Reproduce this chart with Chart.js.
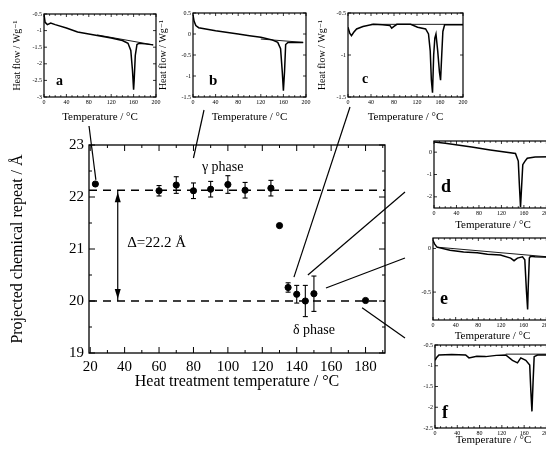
<!DOCTYPE html>
<html>
<head>
<meta charset="utf-8">
<script src="https://cdn.jsdelivr.net/npm/chart.js@4.4.1/dist/chart.umd.min.js"></script>
<style>
html, body { margin: 0; padding: 0; background: #fff; width: 546px; height: 450px; overflow: hidden; }
.box { position: absolute; }
</style>
</head>
<body>
<div class="box" style="left:0;top:0;width:546px;height:450px"><canvas id="main"></canvas></div>
<div class="box" style="left:0;top:0;width:170px;height:130px"><canvas id="insA"></canvas></div>
<div class="box" style="left:150px;top:0;width:170px;height:130px"><canvas id="insB"></canvas></div>
<div class="box" style="left:305px;top:0;width:175px;height:130px"><canvas id="insC"></canvas></div>
<div class="box" style="left:405px;top:133px;width:150px;height:100px"><canvas id="insD"></canvas></div>
<div class="box" style="left:405px;top:228px;width:150px;height:115px"><canvas id="insE"></canvas></div>
<div class="box" style="left:405px;top:335px;width:150px;height:115px"><canvas id="insF"></canvas></div>
<script>
// main panel: chemical repeat vs. heat treatment temperature
var temps  = [23, 60, 70, 80, 90, 100, 110, 125, 130, 135, 140, 145, 150, 180];
var repeat = [22.25, 22.12, 22.23, 22.12, 22.15, 22.24, 22.13, 22.17, 21.45, 20.26, 20.13, 20.0, 20.14, 20.01];
var repErr = [0, 0.1, 0.16, 0.15, 0.15, 0.17, 0.15, 0.15, 0, 0.09, 0.17, 0.3, 0.34, 0];
var gammaLevel = 22.13;
var deltaLevel = 20.0;
var xTickVals = [20, 40, 60, 80, 100, 120, 140, 160, 180];
var yTickVals = [19, 20, 21, 22, 23];

// DSC insets (temperature / heat flow)
var aTemp = [0, 2, 6, 12, 20, 40, 60, 80, 100, 120, 140, 150, 155, 158, 160, 161, 163, 166, 170, 180, 195];
var aHeat = [-0.52, -0.75, -0.82, -0.77, -0.82, -0.92, -1.04, -1.1, -1.16, -1.22, -1.3, -1.38, -1.6, -2.2, -2.78, -2.5, -1.75, -1.42, -1.38, -1.4, -1.43];
var aBaseT = [95, 195], aBaseH = [-1.13, -1.43];

var bTemp = [0, 2, 5, 10, 40, 80, 100, 120, 140, 150, 155, 158, 160, 162, 164, 168, 180, 195];
var bHeat = [0.45, 0.3, 0.2, 0.15, 0.08, 0.0, -0.04, -0.08, -0.14, -0.2, -0.35, -0.9, -1.35, -0.9, -0.25, -0.2, -0.2, -0.2];
var bBaseT = [120, 195], bBaseH = [-0.12, -0.2];

var cTemp = [0, 3, 6, 10, 15, 26, 44, 60, 73, 76, 80, 85, 109, 121, 135, 140, 143, 145, 147, 149, 151, 153, 156, 159, 161, 163, 165, 168, 180, 200];
var cHeat = [-0.67, -0.74, -0.77, -0.73, -0.69, -0.66, -0.635, -0.64, -0.65, -0.68, -0.66, -0.635, -0.635, -0.67, -0.69, -0.75, -0.95, -1.3, -1.45, -1.0, -0.8, -0.75, -0.95, -1.2, -1.3, -1.0, -0.72, -0.64, -0.64, -0.64];
var cBaseT = [40, 200], cBaseH = [-0.635, -0.635];

var dTemp = [0, 20, 67, 100, 145, 150, 152, 154, 156, 158, 162, 166, 180, 210];
var dHeat = [0.45, 0.4, 0.23, 0.1, -0.06, -0.4, -1.5, -2.45, -1.5, -0.56, -0.4, -0.27, -0.22, -0.2];

var eTemp = [0, 3, 7, 30, 54, 78, 96, 119, 137, 143, 149, 158, 162, 165, 167, 168, 170, 172, 180, 210];
var eHeat = [0.09, 0.05, 0.015, -0.02, -0.04, -0.05, -0.065, -0.075, -0.11, -0.14, -0.11, -0.095, -0.13, -0.5, -0.7, -0.45, -0.11, -0.09, -0.095, -0.1];
var eBaseT = [7, 210], eBaseH = [0.015, -0.1];

var fTemp = [0, 3, 7, 30, 55, 61, 75, 91, 110, 127, 139, 148, 154, 163, 170, 172, 174, 176, 178, 184, 200, 210];
var fHeat = [-0.87, -0.8, -0.74, -0.73, -0.74, -0.81, -0.77, -0.78, -0.75, -0.74, -0.87, -0.93, -0.81, -0.87, -0.98, -1.6, -2.1, -1.4, -0.78, -0.74, -0.74, -0.74];
var fBaseT = [127, 210], fBaseH = [-0.72, -0.72];

var SERIF = "'Liberation Serif', 'DejaVu Serif', serif";
Chart.defaults.font.family = SERIF;
Chart.defaults.color = '#000';
Chart.defaults.animation = false;

function pts(xs, ys) {
    return xs.map(function (v, i) { return {x: v, y: ys[i]}; });
}

function seg(ctx, x1, y1, x2, y2) {
    ctx.beginPath(); ctx.moveTo(x1, y1); ctx.lineTo(x2, y2); ctx.stroke();
}

// leader lines from the main plot to the insets (from: data coords, to: page px)
var leaders = [
    {fx: 23.3, fy: 22.33, to: [89, 126]},
    {fx: 80,   fy: 22.75, to: [204, 110]},
    {fx: 138.4, fy: 20.46, to: [350, 107]},
    {fx: 146.5, fy: 20.5, to: [405, 192]},
    {fx: 157,  fy: 20.25, to: [405, 258]},
    {fx: 178,  fy: 19.87, to: [405, 338]}
];

var mainDecor = {
    id: 'mainDecor',
    afterDatasetsDraw: function (chart) {
        var ctx = chart.ctx, a = chart.chartArea, x = chart.scales.x, y = chart.scales.y;
        ctx.save();
        ctx.strokeStyle = '#000';
        ctx.fillStyle = '#000';
        ctx.lineWidth = 1.3;
        ctx.strokeRect(a.left, a.top, a.right - a.left, a.bottom - a.top);
        ctx.lineWidth = 1;
        // inward ticks
        for (var v = 20; v <= 190; v += 10) {
            var px = x.getPixelForValue(v), len = v % 20 === 0 ? 6 : 3;
            seg(ctx, px, a.bottom, px, a.bottom - len);
            seg(ctx, px, a.top, px, a.top + len);
        }
        for (var w = 19; w <= 23; w += 0.5) {
            var py = y.getPixelForValue(w), l2 = w % 1 === 0 ? 6 : 3;
            seg(ctx, a.left, py, a.left + l2, py);
            seg(ctx, a.right, py, a.right - l2, py);
        }
        // error bars
        ctx.lineWidth = 1.1;
        temps.forEach(function (t, i) {
            if (!repErr[i]) return;
            var cx = x.getPixelForValue(t);
            var y1 = y.getPixelForValue(repeat[i] + repErr[i]);
            var y2 = y.getPixelForValue(repeat[i] - repErr[i]);
            seg(ctx, cx, y1, cx, y2);
            seg(ctx, cx - 2.5, y1, cx + 2.5, y1);
            seg(ctx, cx - 2.5, y2, cx + 2.5, y2);
        });
        // double arrow between the two phase levels
        var ax = x.getPixelForValue(36);
        var yTop = y.getPixelForValue(gammaLevel), yBot = y.getPixelForValue(deltaLevel);
        ctx.lineWidth = 1.2;
        seg(ctx, ax, yTop, ax, yBot);
        ctx.beginPath();
        ctx.moveTo(ax, yTop + 2); ctx.lineTo(ax - 3, yTop + 12); ctx.lineTo(ax + 3, yTop + 12); ctx.closePath(); ctx.fill();
        ctx.beginPath();
        ctx.moveTo(ax, yBot - 2); ctx.lineTo(ax - 3, yBot - 12); ctx.lineTo(ax + 3, yBot - 12); ctx.closePath(); ctx.fill();
        // labels
        ctx.font = '15px ' + SERIF;
        ctx.textBaseline = 'middle';
        ctx.textAlign = 'left';
        ctx.fillText('\u0394=22.2 \u00C5', x.getPixelForValue(41.5), y.getPixelForValue(21.12));
        ctx.font = '14px ' + SERIF;
        ctx.textAlign = 'center';
        ctx.fillText('\u03B3 phase', x.getPixelForValue(97), y.getPixelForValue(22.57));
        ctx.fillText('\u03B4 phase', x.getPixelForValue(150), y.getPixelForValue(19.44));
        // leader lines
        ctx.lineWidth = 1.2;
        leaders.forEach(function (ld) {
            seg(ctx, x.getPixelForValue(ld.fx), y.getPixelForValue(ld.fy), ld.to[0], ld.to[1]);
        });
        ctx.restore();
    }
};

new Chart(document.getElementById('main'), {
    type: 'scatter',
    data: {
        datasets: [
            {
                data: pts(temps, repeat),
                pointRadius: 3.1,
                pointBackgroundColor: '#000',
                pointBorderColor: '#000',
                order: 0
            },
            {
                data: [{x: 19.3, y: gammaLevel}, {x: 191.3, y: gammaLevel}],
                showLine: true, borderColor: '#000', borderWidth: 1.3, borderDash: [8, 6],
                pointRadius: 0, order: 1
            },
            {
                data: [{x: 19.3, y: deltaLevel}, {x: 191.3, y: deltaLevel}],
                showLine: true, borderColor: '#000', borderWidth: 1.3, borderDash: [8, 6],
                pointRadius: 0, order: 1
            }
        ]
    },
    options: {
        responsive: true,
        maintainAspectRatio: false,
        layout: {padding: {left: 0, top: 145, right: 161, bottom: 0}},
        plugins: {legend: {display: false}, tooltip: {enabled: false}},
        scales: {
            x: {
                type: 'linear', min: 19.3, max: 191.3,
                afterBuildTicks: function (s) { s.ticks = xTickVals.map(function (v) { return {value: v}; }); },
                grid: {display: false, drawTicks: false},
                border: {display: false},
                ticks: {font: {size: 15}, color: '#000', padding: 5, maxRotation: 0, autoSkip: false},
                title: {display: true, text: 'Heat treatment temperature / \u00B0C', font: {size: 16}, color: '#000', padding: {top: 0, bottom: 59}},
                afterFit: function (s) { s.height = 97; }
            },
            y: {
                min: 19, max: 23,
                afterBuildTicks: function (s) { s.ticks = yTickVals.map(function (v) { return {value: v}; }); },
                grid: {display: false, drawTicks: false},
                border: {display: false},
                ticks: {font: {size: 15}, color: '#000', padding: 5},
                title: {display: true, text: 'Projected chemical repeat / \u00C5', font: {size: 16}, color: '#000', padding: {top: 8, bottom: 0}},
                afterFit: function (s) { s.width = 89; }
            }
        }
    },
    plugins: [mainDecor]
});

// frame, inward ticks and panel letter for the DSC insets
var insetDecor = {
    id: 'insetDecor',
    afterDatasetsDraw: function (chart, args, opts) {
        var ctx = chart.ctx, a = chart.chartArea, x = chart.scales.x, y = chart.scales.y;
        ctx.save();
        ctx.strokeStyle = '#000';
        ctx.fillStyle = '#000';
        ctx.lineWidth = 1.2;
        ctx.strokeRect(a.left, a.top, a.right - a.left, a.bottom - a.top);
        ctx.lineWidth = 0.8;
        for (var v = 0; v <= x.max; v += 10) {
            var px = x.getPixelForValue(v), len = v % 40 === 0 ? 3 : 1.8;
            seg(ctx, px, a.bottom, px, a.bottom - len);
            seg(ctx, px, a.top, px, a.top + len);
        }
        y.ticks.forEach(function (t) {
            var py = y.getPixelForValue(t.value);
            seg(ctx, a.left, py, a.left + 3, py);
            seg(ctx, a.right, py, a.right - 3, py);
        });
        ctx.font = 'bold ' + opts.size + 'px ' + SERIF;
        ctx.textAlign = 'left';
        ctx.textBaseline = 'alphabetic';
        ctx.fillText(opts.letter, a.left + opts.dx, a.bottom - opts.dy);
        ctx.restore();
    }
};

function plainNum(v) { return String(v); }

function makeInset(id, o) {
    var sets = [{data: pts(o.t, o.h), borderColor: '#000', borderWidth: 1.5, pointRadius: 0, tension: 0}];
    if (o.bt) {
        sets.push({data: pts(o.bt, o.bh), borderColor: '#000', borderWidth: 0.9, pointRadius: 0, tension: 0});
    }
    new Chart(document.getElementById(id), {
        type: 'line',
        data: {datasets: sets},
        options: {
            responsive: true,
            maintainAspectRatio: false,
            layout: {padding: o.pad},
            plugins: {
                legend: {display: false}, tooltip: {enabled: false},
                insetDecor: {letter: o.letter, size: o.lsize, dx: o.ldx, dy: o.ldy}
            },
            scales: {
                x: {
                    type: 'linear', min: 0, max: o.xMax,
                    afterBuildTicks: function (s) { s.ticks = [0, 40, 80, 120, 160, 200].map(function (v) { return {value: v}; }); },
                    grid: {display: false, drawTicks: false},
                    border: {display: false},
                    ticks: {font: {size: 6}, color: '#000', padding: 2, maxRotation: 0, autoSkip: false, callback: plainNum},
                    title: {display: true, text: 'Temperature / \u00B0C', font: {size: 11}, color: '#000', padding: {top: 0, bottom: o.xtp}},
                    afterFit: function (s) { s.height = o.xh; }
                },
                y: {
                    min: o.yMin, max: o.yMax,
                    afterBuildTicks: function (s) { s.ticks = o.yt.map(function (v) { return {value: v}; }); },
                    grid: {display: false, drawTicks: false},
                    border: {display: false},
                    ticks: {font: {size: 6}, color: '#000', padding: 2, callback: plainNum},
                    title: {display: o.ytitle, text: 'Heat flow / Wg\u207B\u00B9', font: {size: 10}, color: '#000', padding: {top: o.ytp, bottom: 0}},
                    afterFit: function (s) { s.width = o.yw; }
                }
            }
        },
        plugins: [insetDecor]
    });
}

makeInset('insA', {t: aTemp, h: aHeat, bt: aBaseT, bh: aBaseH, xMax: 200, yMin: -3, yMax: -0.5,
    yt: [-0.5, -1, -1.5, -2, -2.5, -3], pad: {left: 0, top: 14, right: 14, bottom: 0},
    xh: 33, xtp: 6, yw: 44, ytitle: true, ytp: 11, letter: 'a', lsize: 14, ldx: 12, ldy: 12});
makeInset('insB', {t: bTemp, h: bHeat, bt: bBaseT, bh: bBaseH, xMax: 200, yMin: -1.5, yMax: 0.5,
    yt: [0.5, 0, -0.5, -1, -1.5], pad: {left: 0, top: 13, right: 14, bottom: 0},
    xh: 33, xtp: 6, yw: 43, ytitle: true, ytp: 7, letter: 'b', lsize: 15, ldx: 16, ldy: 12});
makeInset('insC', {t: cTemp, h: cHeat, bt: cBaseT, bh: cBaseH, xMax: 200, yMin: -1.5, yMax: -0.5,
    yt: [-0.5, -1, -1.5], pad: {left: 0, top: 13, right: 17, bottom: 0},
    xh: 33, xtp: 6, yw: 43, ytitle: true, ytp: 11, letter: 'c', lsize: 14, ldx: 14, ldy: 14});
makeInset('insD', {t: dTemp, h: dHeat, xMax: 210, yMin: -2.5, yMax: 0.5,
    yt: [0, -1, -2], pad: {left: 0, top: 8, right: 3, bottom: 0},
    xh: 25, xtp: 1, yw: 29, ytitle: false, ytp: 0, letter: 'd', lsize: 18, ldx: 7, ldy: 16});
makeInset('insE', {t: eTemp, h: eHeat, bt: eBaseT, bh: eBaseH, xMax: 210, yMin: -0.82, yMax: 0.12,
    yt: [0, -0.5], pad: {left: 0, top: 10, right: 3, bottom: 0},
    xh: 23, xtp: 0, yw: 28, ytitle: false, ytp: 0, letter: 'e', lsize: 18, ldx: 7, ldy: 16});
makeInset('insF', {t: fTemp, h: fHeat, bt: fBaseT, bh: fBaseH, xMax: 210, yMin: -2.5, yMax: -0.5,
    yt: [-0.5, -1, -1.5, -2, -2.5], pad: {left: 0, top: 10, right: 3, bottom: 0},
    xh: 22, xtp: 3, yw: 30, ytitle: false, ytp: 0, letter: 'f', lsize: 18, ldx: 7, ldy: 10});
</script>
</body>
</html>
